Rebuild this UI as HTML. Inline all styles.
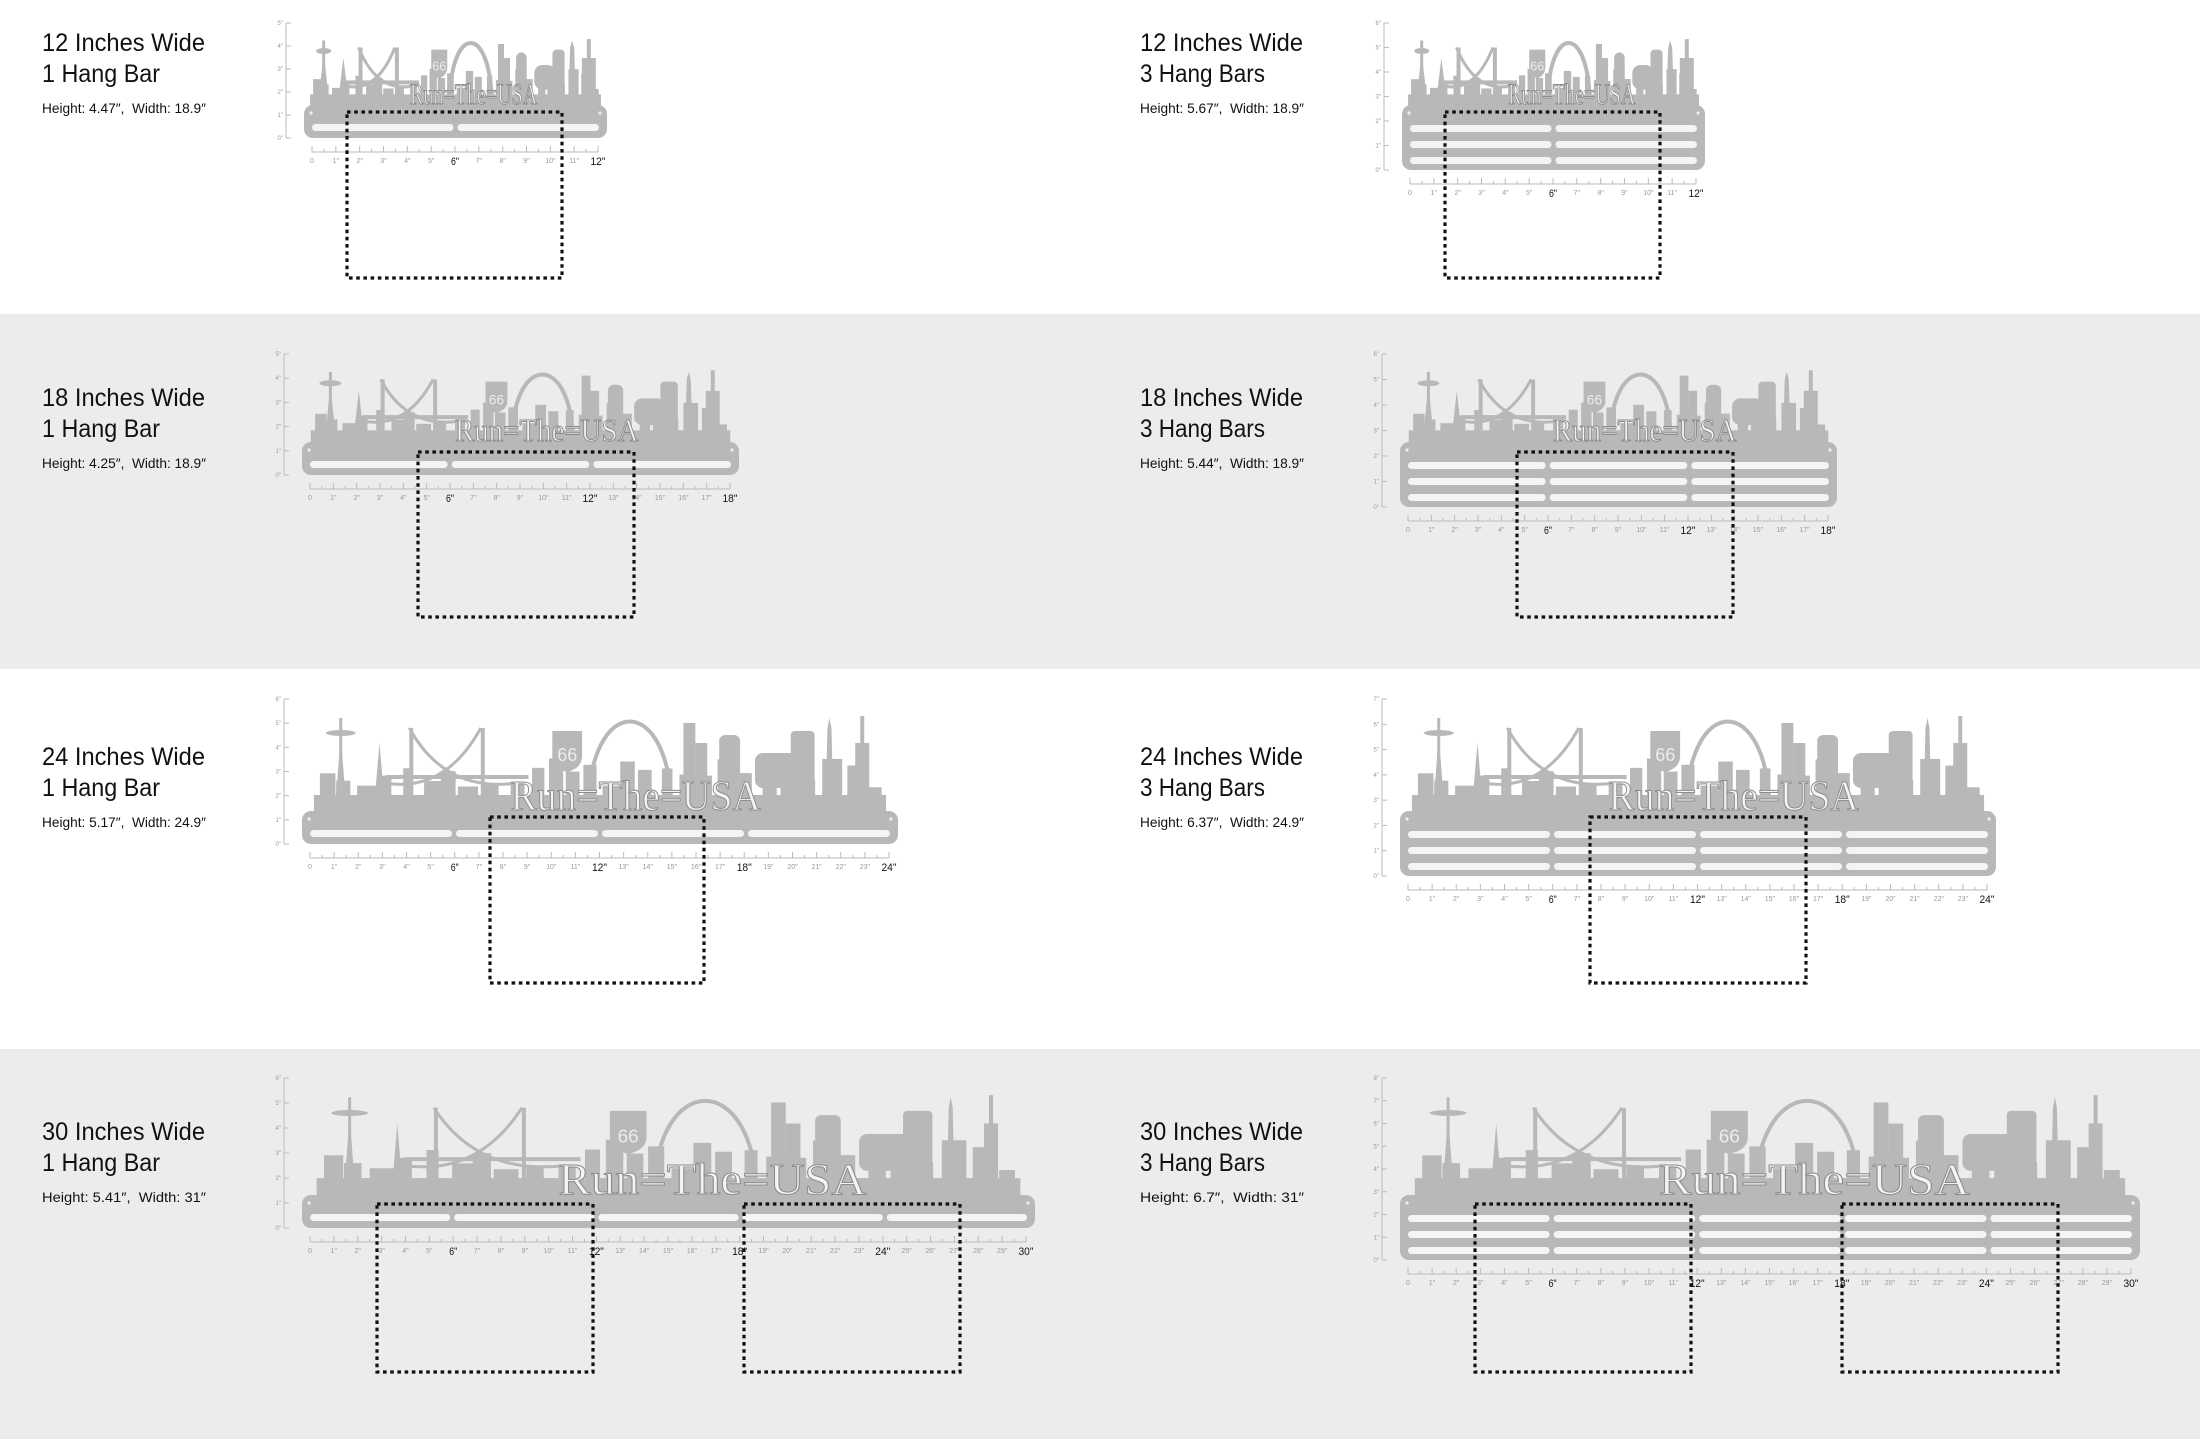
<!DOCTYPE html>
<html><head><meta charset="utf-8"><style>
html,body{margin:0;padding:0;background:#fff}
svg{display:block}
</style></head><body>
<svg id="s" width="2200" height="1439" viewBox="0 0 2200 1439" xmlns="http://www.w3.org/2000/svg">
<rect x="0" y="0" width="2200" height="314" fill="#fff"/>
<rect x="0" y="314" width="2200" height="355" fill="#ececec"/>
<rect x="0" y="669" width="2200" height="380" fill="#fff"/>
<rect x="0" y="1049" width="2200" height="390" fill="#ececec"/>
<g id="g"></g>
</svg>
<script>
var out=[];
var M='#b8b8b8';
function P(s){out.push(s);}
function label(tx,ty,a,b,c){
 P('<text x="'+tx+'" y="'+ty+'" font-family="Liberation Sans,sans-serif" font-size="25" fill="#111" textLength="163" lengthAdjust="spacingAndGlyphs">'+a+'</text>');
 P('<text x="'+tx+'" y="'+(ty+31)+'" font-family="Liberation Sans,sans-serif" font-size="25" fill="#111" textLength="'+(b.length>10?125:118)+'" lengthAdjust="spacingAndGlyphs">'+b+'</text>');
 P('<text x="'+tx+'" y="'+(ty+62)+'" font-family="Liberation Sans,sans-serif" font-size="14" fill="#111" textLength="164" lengthAdjust="spacingAndGlyphs">'+c+'</text>');
}
function skyline(L,R,T,H){
 var W=R-L, b=T+2;
 function X(u){return L+u*W;}
 P('<rect x="'+X(0.02)+'" y="'+(b-H*0.18)+'" width="'+W*0.96+'" height="'+H*0.18+'" fill="'+M+'"/>');
 var seed=7;function r(){seed=(seed*9301+49297)%233280;return seed/233280;}
 for(var u=0.03;u<0.96;u+=0.025+r()*0.02){
  var h=H*(0.25+r()*0.3),w=W*(0.015+r()*0.02);
  P('<rect x="'+X(u)+'" y="'+(b-h)+'" width="'+w+'" height="'+h+'" fill="'+M+'"/>');
 }
 P('<rect x="'+(X(0.065)-1.5)+'" y="'+(b-H*0.95)+'" width="3" height="'+H*0.95+'" fill="'+M+'"/>');
 P('<ellipse cx="'+X(0.065)+'" cy="'+(b-H*0.8)+'" rx="'+Math.max(7,W*0.025)+'" ry="3" fill="'+M+'"/>');
 P('<polygon points="'+(X(0.065)-6)+','+b+' '+X(0.065)+','+(b-H*0.78)+' '+(X(0.065)+6)+','+b+'" fill="'+M+'"/>');
 P('<polygon points="'+(X(0.13)-6)+','+b+' '+X(0.13)+','+(b-H*0.7)+' '+(X(0.13)+6)+','+b+'" fill="'+M+'"/>');
 var b1=X(0.18),b2=X(0.3);
 P('<rect x="'+b1+'" y="'+(b-H*0.85)+'" width="4" height="'+H*0.85+'" fill="'+M+'"/>');
 P('<rect x="'+b2+'" y="'+(b-H*0.85)+'" width="4" height="'+H*0.85+'" fill="'+M+'"/>');
 P('<path d="M'+X(0.14)+','+(b-H*0.3)+' Q'+(b1+b2)/2+','+(b-H*0.2)+' '+b2+','+(b-H*0.85)+' M'+b1+','+(b-H*0.85)+' Q'+(b1+b2)/2+','+(b-H*0.2)+' '+X(0.36)+','+(b-H*0.3)+'" stroke="'+M+'" stroke-width="3" fill="none"/>');
 P('<rect x="'+X(0.14)+'" y="'+(b-H*0.38)+'" width="'+W*0.24+'" height="4" fill="'+M+'"/>');
 var sx=X(0.42),sw=Math.max(16,W*0.05);
 P('<path d="M'+sx+','+(b-H*0.82)+' h'+sw+' v'+H*0.25+' q0,'+H*0.12+' -'+sw/2+','+H*0.16+' q-'+sw/2+',-'+H*0.04+' -'+sw/2+',-'+H*0.16+'z" fill="'+M+'"/>');
 P('<text x="'+(sx+sw/2)+'" y="'+(b-H*0.52)+'" font-family="Liberation Sans,sans-serif" font-size="'+H*0.18+'" fill="#ececec" text-anchor="middle">66</text>');
 P('<rect x="'+(sx+sw/2-1.5)+'" y="'+(b-H*0.45)+'" width="3" height="'+H*0.45+'" fill="'+M+'"/>');
 var ax=X(0.55),aw=W*0.07;
 P('<path d="M'+(ax-aw)+','+b+' C'+(ax-aw)+','+(b-H*1.22)+' '+(ax+aw)+','+(b-H*1.22)+' '+(ax+aw)+','+b+'" stroke="'+M+'" stroke-width="4" fill="none"/>');
 P('<rect x="'+X(0.64)+'" y="'+(b-H*0.9)+'" width="'+W*0.02+'" height="'+H*0.9+'" fill="'+M+'"/>');
 P('<rect x="'+X(0.66)+'" y="'+(b-H*0.7)+'" width="'+W*0.02+'" height="'+H*0.7+'" fill="'+M+'"/>');
 P('<rect x="'+X(0.7)+'" y="'+(b-H*0.78)+'" width="'+W*0.035+'" height="'+H*0.78+'" rx="6" fill="'+M+'"/>');
 P('<rect x="'+X(0.76)+'" y="'+(b-H*0.6)+'" width="'+W*0.07+'" height="'+H*0.35+'" rx="8" fill="'+M+'"/>');
 P('<rect x="'+X(0.82)+'" y="'+(b-H*0.82)+'" width="'+W*0.04+'" height="'+H*0.82+'" rx="4" fill="'+M+'"/>');
 P('<polygon points="'+(X(0.885)-4)+','+b+' '+(X(0.885)-2)+','+(b-H*0.85)+' '+X(0.885)+','+(b-H*0.95)+' '+(X(0.885)+2)+','+(b-H*0.85)+' '+(X(0.885)+4)+','+b+'" fill="'+M+'"/>');
 P('<rect x="'+(X(0.94)-7)+'" y="'+(b-H*0.7)+'" width="14" height="'+H*0.7+'" fill="'+M+'"/>');
 P('<rect x="'+(X(0.94)-2)+'" y="'+(b-H*0.97)+'" width="4" height="'+H*0.3+'" fill="'+M+'"/>');
 P('<text x="'+X(0.56)+'" y="'+(b-3)+'" font-family="Liberation Serif,serif" font-size="'+H*0.42+'" fill="#f4f4f4" stroke="#8c8c8c" stroke-width="1" text-anchor="middle" textLength="'+W*0.42+'" lengthAdjust="spacingAndGlyphs">Run=The=USA</text>');
}
function panel(o){
 var L=o.L,R=o.R,T=o.T,n=o.bars,H=o.H,W=R-L;
 label(o.tx,o.ty,o.a,o.b,o.c);
 skyline(L,R,T,H);
 var ph=n==1?33:65;
 P('<rect x="'+L+'" y="'+T+'" width="'+W+'" height="'+ph+'" rx="9" fill="'+M+'"/>');
 var seg=Math.round(o.N/6); if(seg<2)seg=2;
 var rows=n==1?[T+19]:[T+20,T+36,T+52];
 rows.forEach(function(y,i){
  var x0=L+6,x1=R-6,sw=(x1-x0)/seg;
  var pts=[x0];for(var k=1;k<seg;k++)pts.push(x0+k*sw);pts.push(x1);
  for(var k=0;k<seg;k++){P('<rect x="'+(pts[k]+2)+'" y="'+y+'" width="'+(pts[k+1]-pts[k]-4)+'" height="7" rx="3.5" fill="#f4f4f4"/>');}
 });
 P('<circle cx="'+(L+7)+'" cy="'+(T+8)+'" r="1.6" fill="#eee"/><circle cx="'+(R-7)+'" cy="'+(T+8)+'" r="1.6" fill="#eee"/>');
 var vx=L-18,vt=T-H-12,vb=T+ph;
 P('<line x1="'+vx+'" y1="'+vt+'" x2="'+vx+'" y2="'+vb+'" stroke="#bbb" stroke-width="1"/>');
 var vi=Math.round((vb-vt)/24);
 for(var k=0;k<=vi;k++){var yy=vb-(vb-vt)*k/vi;P('<line x1="'+vx+'" y1="'+yy+'" x2="'+(vx+5)+'" y2="'+yy+'" stroke="#bbb"/>');P('<text x="'+(vx-3)+'" y="'+(yy+2)+'" font-family="Liberation Sans,sans-serif" font-size="6" fill="#999" text-anchor="end">'+k+'"</text>');}
 var ry=T+ph+14,x0=L+8,x1=R-9,N=o.N,step=(x1-x0)/N;
 P('<line x1="'+x0+'" y1="'+ry+'" x2="'+x1+'" y2="'+ry+'" stroke="#bbb"/>');
 for(var k=0;k<=N*2;k++){var xx=x0+k*step/2;P('<line x1="'+xx+'" y1="'+ry+'" x2="'+xx+'" y2="'+(ry-(k%2?3:6))+'" stroke="#bbb"/>');}
 for(var k=0;k<=N;k++){var xx=x0+k*step;var bold=(k%6==0&&k>0);
  P('<text x="'+xx+'" y="'+(ry+(bold?13:11))+'" font-family="Liberation Sans,sans-serif" font-size="'+(bold?11:7)+'" fill="'+(bold?'#111':'#999')+'" text-anchor="middle"'+(bold?' textLength="'+(k>9?15:8)+'" lengthAdjust="spacingAndGlyphs"':'')+'>'+k+(k?'"':'')+'</text>');}
 o.d.forEach(function(d){P('<rect x="'+d[0]+'" y="'+d[1]+'" width="'+(d[2]-d[0])+'" height="'+(d[3]-d[1])+'" fill="none" stroke="#111" stroke-width="3.2" stroke-dasharray="3.6 3.6"/>');});
}
var H2=1098;
panel({L:304,R:607,T:105,bars:1,H:70,N:12,tx:42,ty:51,a:'12 Inches Wide',b:'1 Hang Bar',c:'Height: 4.47″,&#160;&#160;Width: 18.9″',d:[[347,112,562,278]]});
panel({L:304+H2,R:607+H2,T:105,bars:3,H:70,N:12,tx:42+H2,ty:51,a:'12 Inches Wide',b:'3 Hang Bars',c:'Height: 5.67″,&#160;&#160;Width: 18.9″',d:[[347+H2,112,562+H2,278]]});
panel({L:302,R:739,T:442,bars:1,H:76,N:18,tx:42,ty:406,a:'18 Inches Wide',b:'1 Hang Bar',c:'Height: 4.25″,&#160;&#160;Width: 18.9″',d:[[418,452,634,617]]});
panel({L:302+H2,R:739+H2,T:442,bars:3,H:76,N:18,tx:42+H2,ty:406,a:'18 Inches Wide',b:'3 Hang Bars',c:'Height: 5.44″,&#160;&#160;Width: 18.9″',d:[[418+H2+1,452,634+H2+1,617]]});
panel({L:302,R:898,T:811,bars:1,H:100,N:24,tx:42,ty:765,a:'24 Inches Wide',b:'1 Hang Bar',c:'Height: 5.17″,&#160;&#160;Width: 24.9″',d:[[490,817,704,983]]});
panel({L:302+H2,R:898+H2,T:811,bars:3,H:100,N:24,tx:42+H2,ty:765,a:'24 Inches Wide',b:'3 Hang Bars',c:'Height: 6.37″,&#160;&#160;Width: 24.9″',d:[[1590,817,1806,983]]});
panel({L:302,R:1035,T:1195,bars:1,H:105,N:30,tx:42,ty:1140,a:'30 Inches Wide',b:'1 Hang Bar',c:'Height: 5.41″,&#160;&#160;Width: 31″',d:[[377,1204,593,1372],[744,1204,960,1372]]});
panel({L:1400,R:2140,T:1195,bars:3,H:105,N:30,tx:42+H2,ty:1140,a:'30 Inches Wide',b:'3 Hang Bars',c:'Height: 6.7″,&#160;&#160;Width: 31″',d:[[1475,1204,1691,1372],[1842,1204,2058,1372]]});
document.getElementById('g').innerHTML=out.join('');
</script>
</body></html>
